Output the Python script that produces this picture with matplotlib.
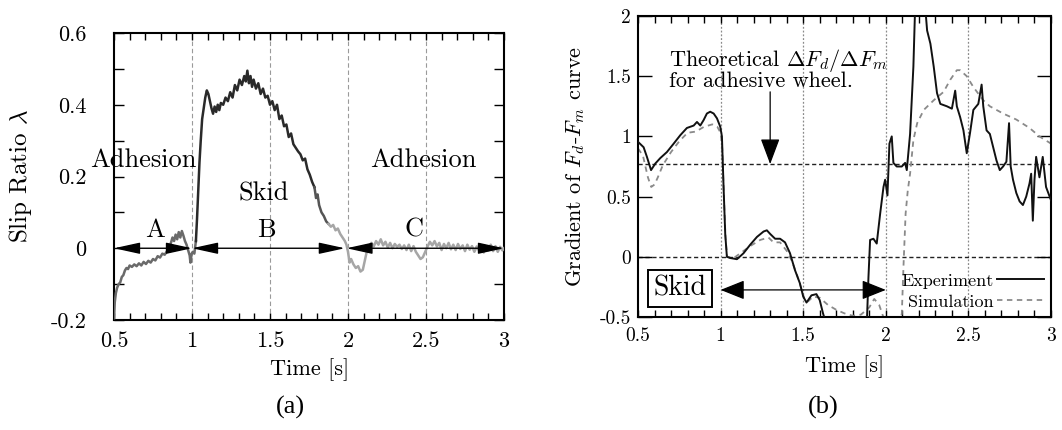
import matplotlib
matplotlib.use("Agg")
import matplotlib.pyplot as plt
from matplotlib.ticker import MultipleLocator, FixedLocator

plt.rcParams['font.family'] = ['cmr10', 'DejaVu Serif']
plt.rcParams['mathtext.fontset'] = 'cm'
plt.rcParams['axes.unicode_minus'] = False
plt.rcParams['axes.formatter.use_mathtext'] = True

# ---- data: (a) slip ratio ----
slip_t = [
    0.500, 0.505, 0.512, 0.520, 0.530, 0.540, 0.550, 0.560, 0.570, 0.580,
    0.590, 0.600, 0.615, 0.630, 0.645, 0.660, 0.675, 0.690, 0.705, 0.720,
    0.735, 0.750, 0.765, 0.780, 0.795, 0.810, 0.825, 0.840, 0.855, 0.865,
    0.875, 0.885, 0.895, 0.905, 0.915, 0.925, 0.935, 0.945, 0.955, 0.965,
    0.975, 0.985, 0.990, 0.998, 1.005, 1.015, 1.025, 1.032, 1.040, 1.048,
    1.056, 1.065, 1.075, 1.085, 1.095, 1.105, 1.115, 1.125, 1.135, 1.145,
    1.155, 1.165, 1.175, 1.185, 1.200, 1.215, 1.230, 1.245, 1.260, 1.275,
    1.290, 1.305, 1.320, 1.335, 1.345, 1.355, 1.365, 1.375, 1.385, 1.395,
    1.410, 1.425, 1.440, 1.455, 1.470, 1.485, 1.500, 1.515, 1.530, 1.545,
    1.560, 1.575, 1.590, 1.605, 1.620, 1.635, 1.650, 1.665, 1.680, 1.695,
    1.710, 1.725, 1.740, 1.755, 1.770, 1.785, 1.795, 1.805, 1.815, 1.830,
    1.845, 1.860, 1.875, 1.890, 1.905, 1.920, 1.935, 1.950, 1.965, 1.980,
    1.990, 2.000, 2.010, 2.020, 2.035, 2.050, 2.065, 2.080, 2.095, 2.110,
    2.120, 2.135, 2.150, 2.165, 2.180, 2.195, 2.210, 2.225, 2.240, 2.255,
    2.270, 2.285, 2.300, 2.315, 2.330, 2.345, 2.360, 2.375, 2.390, 2.405,
    2.420, 2.435, 2.450, 2.465, 2.480, 2.495, 2.510, 2.525, 2.540, 2.555,
    2.570, 2.585, 2.600, 2.615, 2.630, 2.645, 2.660, 2.675, 2.690, 2.705,
    2.720, 2.735, 2.750, 2.765, 2.780, 2.795, 2.810, 2.825, 2.840, 2.855,
    2.870, 2.885, 2.900, 2.915, 2.930, 2.945, 2.960, 2.975, 2.990, 3.000,
]
slip_val = [
    -0.195, -0.150, -0.125, -0.110, -0.100, -0.095, -0.080, -0.075, -0.062, -0.055,
    -0.058, -0.048, -0.052, -0.045, -0.050, -0.042, -0.048, -0.038, -0.044, -0.035,
    -0.040, -0.030, -0.034, -0.022, -0.026, -0.015, -0.018, -0.008, 0.005, 0.015,
    0.030, 0.020, 0.038, 0.025, 0.045, 0.030, 0.048, 0.035, 0.020, 0.010,
    -0.005, -0.020, -0.040, -0.015, -0.010, -0.015, 0.020, 0.080, 0.160, 0.240,
    0.300, 0.360, 0.390, 0.420, 0.440, 0.430, 0.410, 0.390, 0.375, 0.395,
    0.380, 0.400, 0.385, 0.405, 0.400, 0.420, 0.410, 0.435, 0.420, 0.455,
    0.440, 0.470, 0.455, 0.480, 0.465, 0.495, 0.460, 0.480, 0.450, 0.470,
    0.445, 0.460, 0.430, 0.445, 0.420, 0.425, 0.400, 0.410, 0.385, 0.400,
    0.360, 0.370, 0.340, 0.345, 0.310, 0.320, 0.290, 0.280, 0.270, 0.262,
    0.245, 0.250, 0.220, 0.205, 0.185, 0.170, 0.140, 0.150, 0.120, 0.100,
    0.090, 0.075, 0.068, 0.060, 0.065, 0.050, 0.055, 0.040, 0.030, 0.020,
    0.010, -0.010, -0.040, -0.030, -0.045, -0.055, -0.050, -0.065, -0.060, -0.030,
    -0.010, 0.005, 0.015, 0.005, 0.020, 0.010, 0.025, 0.008, 0.018, 0.002,
    0.015, 0.000, 0.012, 0.004, 0.010, -0.002, 0.008, -0.005, 0.010, -0.008,
    0.006, -0.010, -0.020, -0.030, -0.025, -0.010, 0.005, 0.018, 0.008, 0.020,
    0.005, 0.015, -0.005, 0.012, 0.000, 0.015, -0.003, 0.010, -0.005, 0.012,
    -0.002, 0.008, -0.008, 0.010, -0.004, 0.006, -0.010, 0.005, -0.006, 0.008,
    -0.012, 0.004, -0.006, 0.010, -0.008, 0.006, -0.010, 0.004, -0.006, 0.000,
]
# grey level changes along the trace
seg_bounds = [0.5, 1.025, 1.785, 1.875, 3.0]
seg_colors = ['#6a6a6a', '#2a2a2a', '#555555', '#a6a6a6']

# ---- data: (b) gradient of Fd-Fm curve ----
exp_t = [
    0.500, 0.534, 0.554, 0.579, 0.605, 0.635, 0.675, 0.716, 0.756, 0.796,
    0.837, 0.857, 0.877, 0.897, 0.917, 0.937, 0.958, 0.978, 0.998, 1.008,
    1.018, 1.028, 1.038, 1.058, 1.099, 1.139, 1.179, 1.220, 1.260, 1.280,
    1.300, 1.330, 1.360, 1.390, 1.420, 1.450, 1.480, 1.500, 1.520, 1.550,
    1.580, 1.600, 1.620, 1.640, 1.700, 1.800, 1.885, 1.895, 1.905, 1.925,
    1.945, 1.966, 1.986, 1.996, 2.010, 2.022, 2.036, 2.046, 2.066, 2.097,
    2.117, 2.127, 2.147, 2.167, 2.177, 2.200, 2.240, 2.250, 2.270, 2.290,
    2.310, 2.330, 2.370, 2.400, 2.420, 2.430, 2.450, 2.470, 2.490, 2.510,
    2.530, 2.560, 2.580, 2.590, 2.610, 2.630, 2.650, 2.670, 2.690, 2.710,
    2.730, 2.746, 2.756, 2.770, 2.790, 2.810, 2.830, 2.850, 2.870, 2.880,
    2.890, 2.900, 2.910, 2.930, 2.950, 2.970, 3.000,
]
exp_val = [
    0.955, 0.910, 0.830, 0.720, 0.775, 0.820, 0.870, 0.940, 1.010, 1.070,
    1.090, 1.120, 1.090, 1.135, 1.190, 1.205, 1.190, 1.150, 1.080, 1.000,
    0.580, 0.190, 0.000, -0.010, -0.020, 0.030, 0.100, 0.165, 0.210, 0.220,
    0.190, 0.150, 0.150, 0.120, 0.030, -0.110, -0.220, -0.330, -0.380, -0.320,
    -0.310, -0.360, -0.470, -0.560, -0.700, -0.700, -0.560, -0.170, 0.140, 0.150,
    0.110, 0.360, 0.580, 0.640, 0.510, 0.940, 1.000, 0.780, 0.750, 0.750,
    0.780, 0.720, 1.020, 1.580, 2.050, 2.300, 2.050, 1.880, 1.770, 1.580,
    1.360, 1.270, 1.250, 1.230, 1.380, 1.250, 1.160, 1.050, 0.860, 1.030,
    1.220, 1.270, 1.430, 1.250, 1.050, 1.020, 0.910, 0.800, 0.720, 0.750,
    0.790, 1.110, 0.750, 0.640, 0.530, 0.460, 0.430, 0.500, 0.610, 0.690,
    0.300, 0.640, 0.830, 0.660, 0.830, 0.580, 0.470,
]
sim_t = [
    0.50, 0.53, 0.56, 0.58, 0.60, 0.62, 0.65, 0.70, 0.75, 0.80,
    0.85, 0.90, 0.95, 0.98, 1.00, 1.01, 1.02, 1.03, 1.04, 1.08,
    1.12, 1.18, 1.24, 1.29, 1.32, 1.36, 1.40, 1.43, 1.46, 1.49,
    1.51, 1.53, 1.56, 1.60, 1.65, 1.70, 1.75, 1.80, 1.85, 1.90,
    1.93, 1.96, 1.98, 2.00, 2.05, 2.097, 2.107, 2.12, 2.133, 2.147,
    2.167, 2.19, 2.23, 2.29, 2.35, 2.39, 2.43, 2.45, 2.49, 2.53,
    2.59, 2.63, 2.71, 2.79, 2.87, 2.93, 3.00,
]
sim_val = [
    0.90, 0.84, 0.66, 0.58, 0.60, 0.66, 0.76, 0.87, 0.96, 1.03,
    1.04, 1.08, 1.10, 1.08, 1.03, 0.90, 0.50, 0.15, 0.00, -0.01,
    0.03, 0.09, 0.14, 0.16, 0.12, 0.12, 0.05, -0.03, -0.14, -0.27,
    -0.36, -0.37, -0.33, -0.34, -0.40, -0.44, -0.47, -0.49, -0.48, -0.42,
    -0.35, -0.40, -0.48, -0.56, -0.80, -0.47, -0.08, 0.36, 0.55, 0.69,
    0.97, 1.11, 1.22, 1.30, 1.37, 1.47, 1.55, 1.55, 1.50, 1.41,
    1.30, 1.25, 1.19, 1.14, 1.07, 1.00, 0.94,
]
theory_level = 0.77

x_major = [0.5, 1, 1.5, 2, 2.5, 3]
x_labels = ['0.5', '1', '1.5', '2', '2.5', '3']
a_yticks = [-0.2, 0, 0.2, 0.4, 0.6]
a_ylabels = ['-0.2', '0', '0.2', '0.4', '0.6']
b_yticks = [-0.5, 0, 0.5, 1, 1.5, 2]
b_ylabels = ['-0.5', '0', '0.5', '1', '1.5', '2']
grid_x = [1, 1.5, 2, 2.5]

W, H = 1062, 430
fig = plt.figure(figsize=(W / 100, H / 100), dpi=100)


def box(x0, y0, x1, y1):
    return [x0 / W, 1 - y1 / H, (x1 - x0) / W, (y1 - y0) / H]


def style_axes(ax, ylen, ypad, xpad, size):
    for s in ax.spines.values():
        s.set_linewidth(1.5)
    ax.tick_params(which='both', direction='in', top=True, right=True, width=1.0,
                   labelsize=size)
    ax.tick_params(axis='x', which='both', length=5, pad=xpad)
    ax.tick_params(axis='y', which='both', length=ylen, pad=ypad)


# ---------- (a) ----------
axa = fig.add_axes(box(114, 33, 504, 320))
axa.set_xlim(0.5, 3)
axa.set_ylim(-0.2, 0.6)
for gx in grid_x:
    axa.axvline(gx, color='#9a9a9a', lw=0.8, ls=(0, (4, 2.5)), zorder=1)

for i in range(len(seg_colors)):
    lo, hi = seg_bounds[i], seg_bounds[i + 1]
    idx = [k for k, t in enumerate(slip_t) if lo <= t <= hi]
    axa.plot([slip_t[k] for k in idx], [slip_val[k] for k in idx],
             color=seg_colors[i], lw=1.8, zorder=3)

arrow_a = dict(arrowstyle='<|-|>,head_length=1.6,head_width=0.35', color='black',
               lw=1.0, shrinkA=0, shrinkB=0, mutation_scale=10)
for (s, e) in [(0.5, 1.0), (1.0, 1.98), (1.99, 3.0)]:
    axa.annotate('', xy=(e, 0), xytext=(s, 0), arrowprops=arrow_a, zorder=4,
                 annotation_clip=False)

axa.text(0.69, 0.246, 'Adhesion', fontsize=19, ha='center', va='center')
axa.text(1.46, 0.153, 'Skid', fontsize=19, ha='center', va='center')
axa.text(2.48, 0.246, 'Adhesion', fontsize=19, ha='center', va='center')
axa.text(0.76, 0.051, 'A', fontsize=19, ha='center', va='center')
axa.text(1.48, 0.051, 'B', fontsize=19, ha='center', va='center')
axa.text(2.42, 0.051, 'C', fontsize=19, ha='center', va='center')

axa.xaxis.set_major_locator(FixedLocator(x_major))
axa.set_xticklabels(x_labels)
axa.xaxis.set_minor_locator(MultipleLocator(0.1))
axa.yaxis.set_major_locator(FixedLocator(a_yticks))
axa.set_yticklabels(a_ylabels)
axa.yaxis.set_minor_locator(MultipleLocator(0.1))
style_axes(axa, 7, 20, 8, 16)

fig.text(20 / W, 1 - 176 / H, r'Slip Ratio $\lambda$', rotation=90, fontsize=18,
         ha='center', va='center')
fig.text(310 / W, 1 - 370 / H, 'Time [s]', fontsize=16, ha='center', va='center')
fig.text(290 / W, 1 - 407 / H, '(a)', fontsize=19, ha='center', va='center',
         family='Liberation Serif')

# ---------- (b) ----------
axb = fig.add_axes(box(638, 16, 1051, 317))
axb.set_xlim(0.5, 3)
axb.set_ylim(-0.5, 2)
for gx in grid_x:
    axb.axvline(gx, color='#8a8a8a', lw=0.9, ls=(0, (1.5, 1.5)), zorder=1)
for gy in [0, theory_level]:
    axb.axhline(gy, color='#222222', lw=1.0, ls=(0, (3, 2)), zorder=1)

axb.plot(exp_t, exp_val, color='#111111', lw=1.4, zorder=3, label='Experiment')
axb.plot(sim_t, sim_val, color='#8a8a8a', lw=1.3, ls=(0, (3, 2.5)), zorder=2,
         label='Simulation')

axb.text(0.69, 1.63, r'Theoretical $\mathit{\Delta} F_d/\mathit{\Delta} F_m$',
         fontsize=16, ha='left', va='center')
axb.text(0.69, 1.455, 'for adhesive wheel.', fontsize=16, ha='left', va='center')
axb.annotate('', xy=(1.3, theory_level), xytext=(1.3, 1.37),
             arrowprops=dict(arrowstyle='-|>,head_length=1.6,head_width=0.6',
                             color='black', lw=0.9, shrinkA=0, shrinkB=0,
                             mutation_scale=10), zorder=4)
axb.annotate('', xy=(2.0, -0.275), xytext=(1.0, -0.275),
             arrowprops=dict(arrowstyle='<|-|>,head_length=1.5,head_width=0.6',
                             color='black', lw=0.9, shrinkA=0, shrinkB=0,
                             mutation_scale=10), zorder=4)
axb.text(0.755, -0.265, 'Skid', fontsize=20, ha='center', va='center',
         bbox=dict(boxstyle='square,pad=0.2', fc='white', ec='black', lw=1.4), zorder=5)

leg = axb.legend(loc='lower right', bbox_to_anchor=(1.0, 0.0), frameon=False,
                 markerfirst=False, fontsize=13, handlelength=2.6, handletextpad=0.15,
                 labelspacing=0.3, borderaxespad=0.1, borderpad=0.3)

axb.xaxis.set_major_locator(FixedLocator(x_major))
axb.set_xticklabels(x_labels)
axb.xaxis.set_minor_locator(MultipleLocator(0.1))
axb.yaxis.set_major_locator(FixedLocator(b_yticks))
axb.set_yticklabels(b_ylabels)
style_axes(axb, 10, 5, 7, 14)

fig.text(575 / W, 1 - 166 / H, r'Gradient of $F_d$-$F_m$ curve', rotation=90,
         fontsize=16, ha='center', va='center')
fig.text(845 / W, 1 - 367 / H, 'Time [s]', fontsize=16, ha='center', va='center')
fig.text(823 / W, 1 - 407 / H, '(b)', fontsize=19, ha='center', va='center',
         family='Liberation Serif')

fig.savefig('out.png', dpi=100)
